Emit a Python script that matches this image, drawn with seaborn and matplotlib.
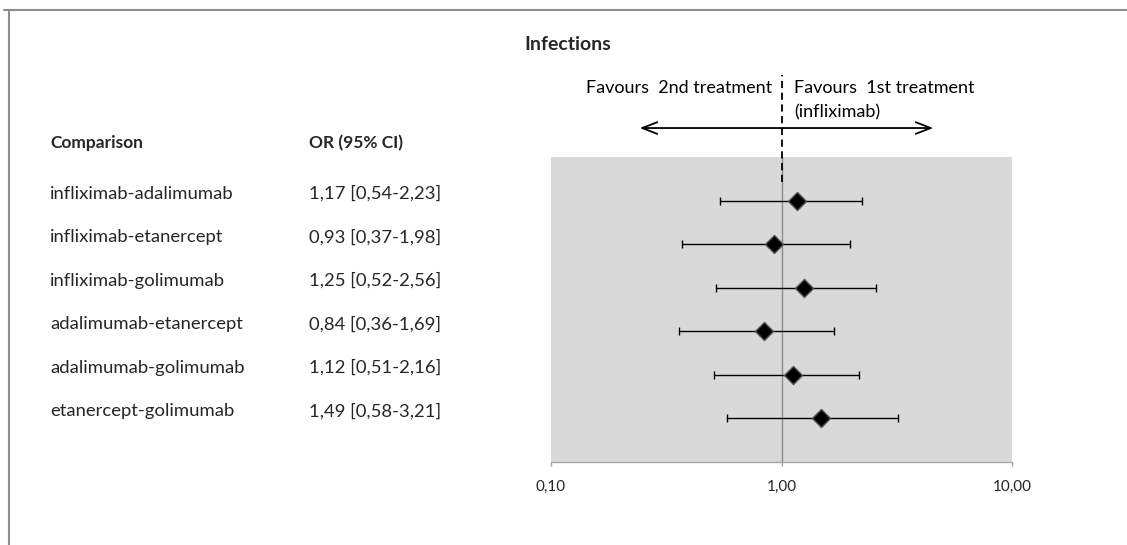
import numpy as np
import pandas as pd
import matplotlib
matplotlib.use("Agg")
import matplotlib.pyplot as plt
import seaborn as sns
from matplotlib.lines import Line2D
from matplotlib.transforms import blended_transform_factory
from matplotlib.ticker import FixedLocator, FixedFormatter, NullLocator

comparisons = ["infliximab-adalimumab", "infliximab-etanercept", "infliximab-golimumab",
               "adalimumab-etanercept", "adalimumab-golimumab", "etanercept-golimumab"]
or_values = [1.17, 0.93, 1.25, 0.84, 1.12, 1.49]
ci_low = [0.54, 0.37, 0.52, 0.36, 0.51, 0.58]
ci_high = [2.23, 1.98, 2.56, 1.69, 2.16, 3.21]
ci_labels = ["1,17 [0,54-2,23]", "0,93 [0,37-1,98]", "1,25 [0,52-2,56]",
             "0,84 [0,36-1,69]", "1,12 [0,51-2,16]", "1,49 [0,58-3,21]"]
tick_values = [0.1, 1.0, 10.0]
tick_labels = ["0,10", "1,00", "10,00"]

df = pd.DataFrame({"comparison": comparisons, "OR": or_values, "lo": ci_low, "hi": ci_high})
df["row"] = np.arange(1, len(df) + 1)

sns.set_theme(style="white")
plt.rcParams["font.family"] = ["Lato", "DejaVu Sans"]

W, H = 1127, 545
fig = plt.figure(figsize=(W / 100, H / 100), dpi=100)
ax = fig.add_axes([551 / W, 1 - 462 / H, (1012 - 551) / W, (462 - 157) / H])
ax.set_facecolor("#d9d9d9")

ax.set_xscale("log")
ax.set_xlim(0.1, 10)
ax.set_ylim(len(df) + 1, 0)

# reference line at 1
ax.axvline(1.0, color="#8c8c8c", lw=1, zorder=1)

# CI bars
ax.errorbar(df["OR"], df["row"],
            xerr=[df["OR"] - df["lo"], df["hi"] - df["OR"]],
            fmt="none", ecolor="black", elinewidth=1, capsize=2.8, capthick=1, zorder=2)
sns.scatterplot(data=df, x="OR", y="row", marker="D", s=85, color="black",
                edgecolor="#555555", linewidth=1, ax=ax, zorder=3, legend=False)

ax.set_xlabel("")
ax.set_ylabel("")
ax.xaxis.set_major_locator(FixedLocator(tick_values))
ax.xaxis.set_major_formatter(FixedFormatter(tick_labels))
ax.xaxis.set_minor_locator(NullLocator())
ax.set_yticks([])
for s in ["top", "left", "right"]:
    ax.spines[s].set_visible(False)
ax.spines["bottom"].set_color("#a6a6a6")
ax.spines["bottom"].set_linewidth(1)
ax.tick_params(axis="x", which="major", direction="out", length=3, width=1,
               color="#a6a6a6", labelsize=11, labelcolor="#262626", pad=10, bottom=True)

# annotations above axes
bt = blended_transform_factory(ax.transData, ax.transAxes)
ax.plot([1, 1], [0.918, 1.27], transform=bt, color="black", lw=1.3,
        linestyle=(0, (4, 2.5)), clip_on=False, zorder=4)
ax.annotate("", xy=(0.236, 1.095), xytext=(4.68, 1.095), xycoords=bt, textcoords=bt,
            arrowprops=dict(arrowstyle="<->,head_length=0.9,head_width=0.35", color="black", lw=1.3),
            annotation_clip=False)
ax.text(0.91, 1.226, "Favours  2nd treatment", transform=bt, ha="right", va="center",
        fontsize=13, color="black")
ax.text(1.133, 1.226, "Favours  1st treatment", transform=bt, ha="left", va="center",
        fontsize=13, color="black")
ax.text(1.133, 1.145, "(infliximab)", transform=bt, ha="left", va="center",
        fontsize=13, color="black")

# left table
fig.text(50 / W, 1 - 143 / H, "Comparison", ha="left", va="center", fontsize=12.5, fontweight="bold")
fig.text(309 / W, 1 - 143 / H, "OR (95% CI)", ha="left", va="center", fontsize=12.5, fontweight="bold")
ft = blended_transform_factory(fig.transFigure, ax.transData)
for r, name, lab in zip(df["row"], comparisons, ci_labels):
    fig.text(50 / W, r - 0.16, name, transform=ft, ha="left", va="center", fontsize=13.3)
    fig.text(309 / W, r - 0.16, lab, transform=ft, ha="left", va="center", fontsize=13.3)

# title
fig.text(568 / W, 1 - 45 / H, "Infections", ha="center", va="center", fontsize=14, fontweight="bold")

# chart border (cropped)
fig.add_artist(Line2D([4 / W, 1], [1 - 10 / H, 1 - 10 / H], transform=fig.transFigure,
                      color="#8c8c8c", lw=1.5))
fig.add_artist(Line2D([8.5 / W, 8.5 / W], [0, 1 - 10 / H], transform=fig.transFigure,
                      color="#8c8c8c", lw=1.5))

fig.savefig("out.png", dpi=100, facecolor="white")
